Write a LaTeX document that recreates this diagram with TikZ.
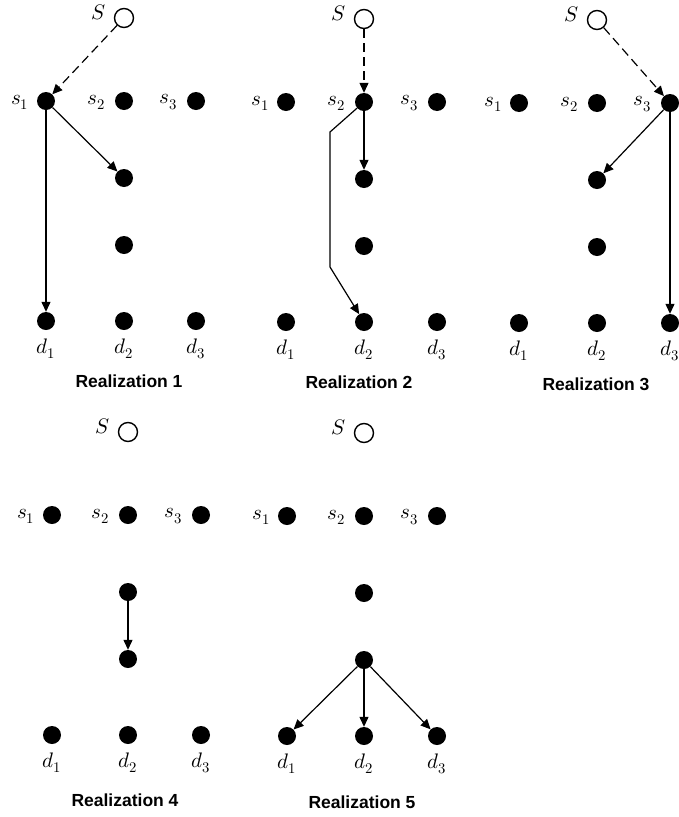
\documentclass[tikz,border=0pt]{standalone}
\usepackage{fontspec}
\usepackage{unicode-math}
\setmathfont{Latin Modern Math}
\newfontfamily\titlefont{Liberation Sans}
\usetikzlibrary{arrows.meta}
\tikzset{
  dotnode/.style={circle, fill=black, minimum size=18pt, inner sep=0pt},
  srcnode/.style={circle, draw=black, line width=1.4pt, fill=white, minimum size=19pt, inner sep=0pt},
  lbl/.style={font=\fontsize{21}{25}\selectfont, inner sep=0pt},
  ttl/.style={font=\fontsize{17.5}{20}\selectfont\titlefont\bfseries, inner sep=0pt},
  edge/.style={line width=1.2pt, -{Triangle[length=10pt,width=9pt]}},
  dashedge/.style={edge, dash pattern=on 9pt off 5pt},
}
% #1 prefix, #2 x col1, #3 x col2, #4 x col3, #5 dy
\newcommand\realizpanel[5]{%
  \node[srcnode] (#1S) at (#3,18+#5) {};
  \node[lbl] (#1Sl) at (#3-25,12+#5) {$S$};
  \node[dotnode] (#1s1) at (#2,101+#5) {};
  \node[dotnode] (#1s2) at (#3,101+#5) {};
  \node[dotnode] (#1s3) at (#4,101+#5) {};
  \node[lbl] (#1s1l) at (#2-26,102+#5) {$s_1$};
  \node[lbl] (#1s2l) at (#3-28,102+#5) {$s_2$};
  \node[lbl] (#1s3l) at (#4-28,102+#5) {$s_3$};
  \node[dotnode] (#1m1) at (#3,178+#5) {};
  \node[dotnode] (#1m2) at (#3,245+#5) {};
  \node[dotnode] (#1d1) at (#2,321+#5) {};
  \node[dotnode] (#1d2) at (#3,321+#5) {};
  \node[dotnode] (#1d3) at (#4,321+#5) {};
  \node[lbl] (#1d1l) at (#2,349+#5) {$d_1$};
  \node[lbl] (#1d2l) at (#3,349+#5) {$d_2$};
  \node[lbl] (#1d3l) at (#4,349+#5) {$d_3$};
}
\begin{document}
\begin{tikzpicture}[x=1pt, y=-1pt]
\useasboundingbox (0,0) rectangle (678,817);
% Realization 1
\realizpanel{a}{46}{124}{196}{0}
\node[ttl] (ta) at (129,381) {Realization 1};
\draw[dashedge] (aS) -- (as1);
\draw[edge] (as1) -- (am1);
\draw[edge] (as1) -- (ad1);
% Realization 2
\realizpanel{b}{286}{364}{437}{1}
\node[ttl] (tb) at (359,382) {Realization 2};
\coordinate (bk1) at (330,132);
\coordinate (bk2) at (330,267);
\draw[dashedge] (bS) -- (bs2);
\draw[edge] (bs2) -- (bm1);
\draw[edge] (bs2) -- (bk1) -- (bk2) -- (bd2);
% Realization 3
\realizpanel{c}{519}{597}{670}{2}
\node[ttl] (tc) at (596,384) {Realization 3};
\draw[dashedge] (cS) -- (cs3);
\draw[edge] (cs3) -- (cm1);
\draw[edge] (cs3) -- (cd3);
% Realization 4
\realizpanel{d}{52}{128}{201}{414}
\node[ttl] (td) at (125,800) {Realization 4};
\draw[edge] (dm1) -- (dm2);
% Realization 5
\realizpanel{e}{287}{364}{437}{415}
\node[ttl] (te) at (362,802) {Realization 5};
\draw[edge] (em2) -- (ed1);
\draw[edge] (em2) -- (ed2);
\draw[edge] (em2) -- (ed3);
\end{tikzpicture}
\end{document}
